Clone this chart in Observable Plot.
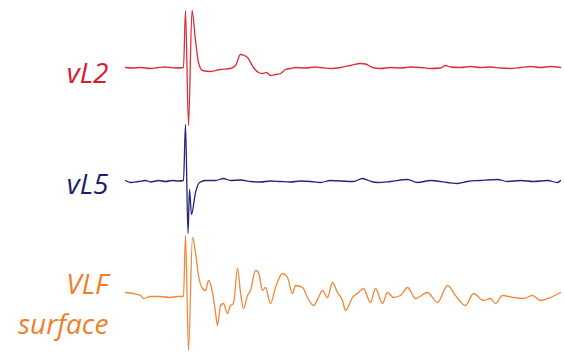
<!DOCTYPE html>
<html>
<head>
<meta charset="utf-8">
<script src="https://cdn.jsdelivr.net/npm/d3@7"></script>
<script src="https://cdn.jsdelivr.net/npm/@observablehq/plot@0.6"></script>
<style>
  html, body { margin: 0; padding: 0; background: #fff; }
  #chart { width: 564px; height: 352px; }
</style>
</head>
<body>
<div id="chart"></div>
<script>
// Series names and labels
const seriesNames = ["vL2", "vL5", "VLF surface"];
const seriesLabels = ["vL2", "vL5", "VLF\nsurface"];
const seriesColors = ["#d8303a", "#24247c", "#f0883a"];
const labelColors = ["#d22030", "#1e1e6e", "#ee7f2c"];

// Time (ms) and amplitude (a.u.) for each trace
const time_vL2 = [0, 0.7, 1.5, 2.5, 3.3, 4.0, 4.5, 5.0, 5.8, 6.0, 6.3, 6.65, 7.0, 7.3, 7.7, 8.5, 9.5, 10.5, 11.0, 11.5, 11.9, 12.2, 12.8, 13.3, 13.7, 14.1, 14.5, 15.0, 15.5, 16.0, 16.5, 17.0, 18.0, 19.0, 19.5, 20.5, 21.5, 22.5, 23.5, 24.0, 24.7, 25.5, 26.5, 27.5, 28.5, 29.5, 30.5, 31.5, 32.0, 32.5, 33.5, 34.5, 35.5, 36.5, 37.5, 38.5, 39.5, 40.5, 41.5, 42.5, 43.5];
const amp_vL2 = [0, -0.5, 0, -1, 0, 0.5, 0, -0.5, 0, 57, -58, 57, 27, 5, -3, -4, -2, -1, 2, 13, 12, 10, 0, -5, -6, -5, -8, -7, -6, -2, -1, 0, -0.5, 0.5, 0, -1, 0, 2, 4, 3.5, 0, -1, 0, -0.5, 0.5, 0, -1, -0.5, 2, 0.5, 0, 1, 0, 0.5, -0.5, -1, 0, 1, 0, 1, 0];

const time_vL5 = [0, 0.5, 1.3, 2.0, 2.5, 3.3, 4.0, 4.7, 5.3, 5.8, 6.0, 6.25, 6.4, 6.6, 7.0, 7.4, 8.0, 9.0, 9.8, 10.5, 11.5, 12.5, 13.5, 14.5, 15.5, 16.5, 17.5, 18.5, 19.5, 20.5, 22.8, 23.7, 24.3, 25.2, 26.5, 28.2, 29.2, 30.5, 32.2, 33.2, 34.2, 35.5, 37.2, 38.2, 39.5, 40.8, 42.2, 43.2, 43.5];
const amp_vL5 = [1, -1, 0, 1, -0.5, 1, 0, 1, 0.5, 1, 57, -52, -8, -33, -11, -1, 1, 1, 3, 1, 1.5, 0, -0.5, 0.5, 0, -0.5, 0.5, 0, -1, 1, 0, 3, 1, -1, 0, 2, -1, 1, -1, -2, 0, 1, 2, 0, 1, 0, 1, -1, 1];

const time_VLF = [0, 0.8, 1.5, 1.8, 2.5, 3.5, 4.5, 5.2, 5.8, 6.0, 6.3, 6.7, 7.0, 7.3, 7.7, 8.0, 8.3, 8.7, 9.0, 9.2, 9.5, 9.8, 10.2, 10.5, 10.8, 11.2, 11.5, 11.8, 12.2, 12.5, 13.0, 13.3, 13.7, 14.0, 14.5, 15.0, 15.7, 16.2, 16.7, 17.0, 17.7, 18.2, 18.8, 19.3, 19.7, 20.2, 20.7, 21.2, 21.7, 22.0, 22.7, 23.3, 23.8, 24.5, 25.0, 25.7, 26.2, 26.8, 27.5, 28.2, 29.0, 30.2, 31.2, 32.2, 33.0, 34.0, 34.8, 35.8, 36.5, 37.0, 37.7, 38.8, 39.8, 40.7, 41.5, 42.5, 43.5];
const amp_VLF = [3, 2, 0, -3, -1, -1, -2, -1, -1, 60, -55, 58, 43, 20, 7, 5, 15, 3, -17, -30, -10, -8, -18, -10, -8, 27, 3, -13, 0, 5, 25, 23, 5, 8, -8, 8, 22, 18, 2, 10, 8, -2, -10, -2, 5, -2, 13, 3, -5, -15, -2, 3, 7, -7, 7, -8, 3, -2, 0, 8, -3, 3, -7, 10, 0, -10, 2, -5, -3, -8, 0, -2, -3, 0, -5, -2, 3];

const times = [time_vL2, time_vL5, time_VLF];
const amps = [amp_vL2, amp_vL5, amp_VLF];

// Vertical stacking of traces (layout)
const GAP = 114;
const rows = [];
seriesNames.forEach((name, i) => {
  times[i].forEach((t, j) => rows.push({series: name, t, v: amps[i][j] - i * GAP}));
});

const labelDy = [3, 0, 6];
const labelMarks = seriesNames.map((name, i) =>
  Plot.text([{series: name, label: seriesLabels[i], v: -i * GAP}], {
    x: () => 0, y: "v", text: "label",
    fill: labelColors[i],
    textAnchor: "end", dx: -17, dy: labelDy[i],
    fontSize: 28, fontStyle: "italic", fontFamily: "Open Sans",
    lineHeight: 1.43
  })
);

const lineOpts = {x: "t", y: "v", stroke: "series", strokeWidth: 1.3, curve: "monotone-x"};

const chart = Plot.plot({
  width: 564,
  height: 352,
  marginLeft: 125,
  marginRight: 4,
  marginTop: 0,
  marginBottom: 0,
  x: {domain: [0, 43.5], axis: null},
  y: {domain: [-285, 67], axis: null},
  color: {domain: seriesNames, range: seriesColors},
  style: {background: "#fff"},
  marks: [
    Plot.line(rows.filter(d => d.series === "VLF surface"), lineOpts),
    Plot.line(rows.filter(d => d.series === "vL5"), lineOpts),
    Plot.line(rows.filter(d => d.series === "vL2"), lineOpts),
    ...labelMarks
  ]
});
document.getElementById("chart").appendChild(chart);
</script>
</body>
</html>
